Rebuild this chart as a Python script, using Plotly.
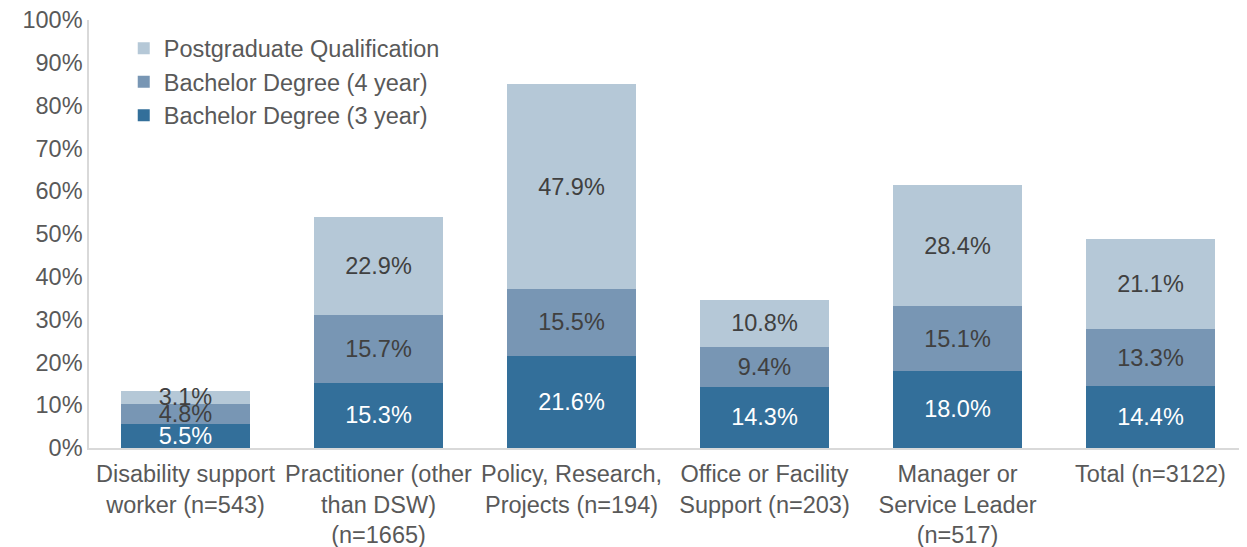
import plotly.graph_objects as go

categories = [
    "Disability support<br>worker (n=543)",
    "Practitioner (other<br>than DSW)<br>(n=1665)",
    "Policy, Research,<br>Projects (n=194)",
    "Office or Facility<br>Support (n=203)",
    "Manager or<br>Service Leader<br>(n=517)",
    "Total (n=3122)",
]
bachelor_3yr = [5.5, 15.3, 21.6, 14.3, 18.0, 14.4]
bachelor_4yr = [4.8, 15.7, 15.5, 9.4, 15.1, 13.3]
postgraduate = [3.1, 22.9, 47.9, 10.8, 28.4, 21.1]

series = [
    ("Bachelor Degree (3 year)", bachelor_3yr, "#336f9a", "white"),
    ("Bachelor Degree (4 year)", bachelor_4yr, "#7896b4", "#404040"),
    ("Postgraduate Qualification", postgraduate, "#b5c8d7", "#404040"),
]

FONT = "Liberation Sans, Arial, sans-serif"

fig = go.Figure()
for name, vals, color, tcolor in series:
    fig.add_trace(go.Bar(
        x=categories, y=vals, name=name,
        marker=dict(color=color, line=dict(width=0)),
        text=[f"{v:.1f}%" for v in vals],
        textposition="inside", insidetextanchor="middle",
        constraintext="none",
        textfont=dict(color=tcolor, size=23.5, family=FONT),
        hoverinfo="skip",
    ))

fig.update_layout(
    barmode="stack",
    bargap=0.33,
    width=1239, height=539,
    margin=dict(l=81, r=0, t=12, b=99, autoexpand=False),
    plot_bgcolor="white", paper_bgcolor="white",
    font=dict(family=FONT, size=23.5, color="#595959"),
    showlegend=True,
    legend=dict(
        x=0.03, y=0.985, xanchor="left", yanchor="top",
        traceorder="reversed",
        font=dict(size=23.5, color="#595959"),
        bgcolor="rgba(0,0,0,0)",
        itemwidth=30,
    ),
)
fig.update_yaxes(
    range=[0, 100], dtick=10, ticksuffix="%",
    showgrid=False, showline=True, linecolor="#d9d9d9", linewidth=1.5,
    ticks="", zeroline=False, automargin=False,
    ticklabeloverflow="allow",
    tickfont=dict(size=23.5, color="#595959"),
)
fig.update_xaxes(
    showgrid=False, showline=True, linecolor="#d9d9d9", linewidth=1.5,
    ticks="", automargin=False, ticklabelstandoff=4,
    ticklabeloverflow="allow",
    tickfont=dict(size=23.5, color="#595959"),
)

fig.write_html("out.html")
